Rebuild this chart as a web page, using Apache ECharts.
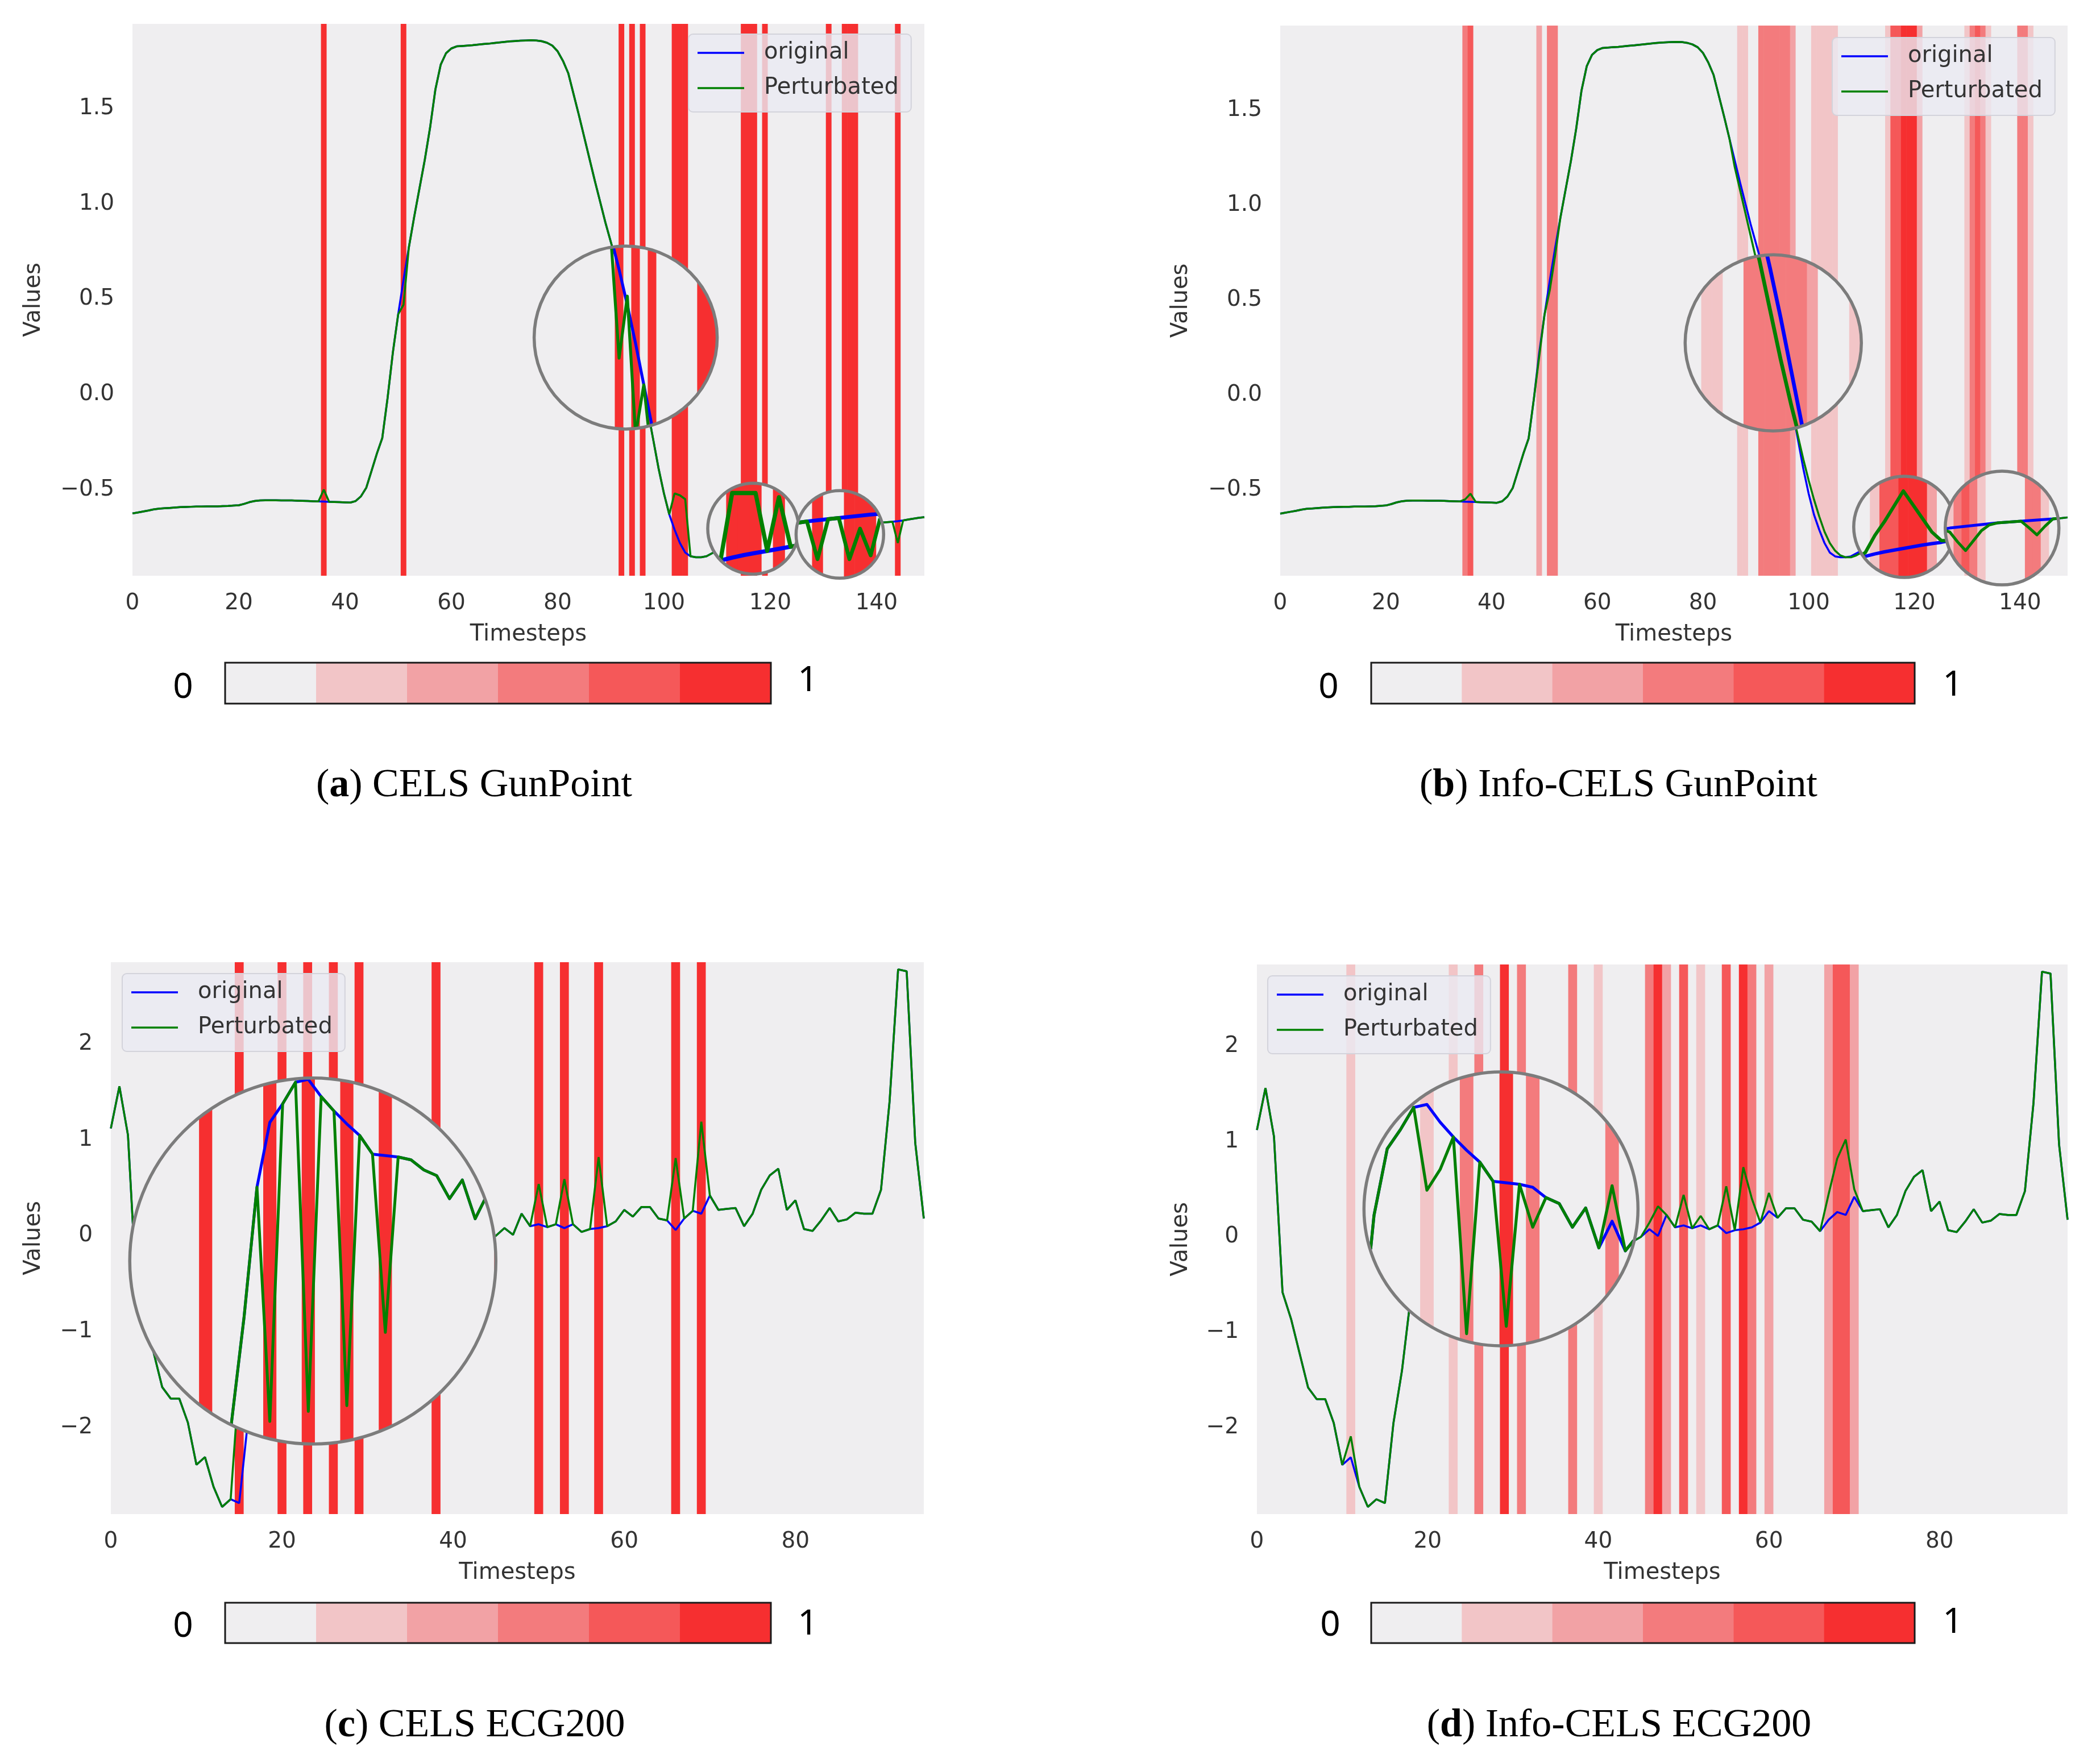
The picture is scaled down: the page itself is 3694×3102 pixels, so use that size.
<!DOCTYPE html>
<html><head><meta charset="utf-8">
<script src="https://cdn.jsdelivr.net/npm/echarts@6.0.0/dist/echarts.min.js"></script>
<style>html,body{margin:0;padding:0;background:#fff}#c{width:3694px;height:3102px}</style>
</head><body><div id="c"></div>
<script>
// ---------------- data ----------------
const GP_X_TICKS = [0,20,40,60,80,100,120,140];
const GP_Y_TICKS = [-0.5,0,0.5,1,1.5];
const ECG_X_TICKS = [0,20,40,60,80];
const ECG_Y_TICKS = [-2,-1,0,1,2];
const CBAR_LEVELS = [0,1,2,3,4,5];
const CMAP = ['#EFEEF0','#F2C5C7','#F2A2A5','#F37B7D','#F55859','#F62F30'];
const LEGEND_NAMES = ['original','Perturbated'];
const CAPTIONS = [['a','CELS GunPoint'],['b','Info-CELS GunPoint'],['c','CELS ECG200'],['d','Info-CELS ECG200']];

const GP_ORIG = [
 -0.625,-0.620,-0.615,-0.610,-0.604,-0.600,-0.598,-0.596,-0.594,-0.592,
 -0.591,-0.590,-0.589,-0.589,-0.588,-0.588,-0.588,-0.587,-0.586,-0.584,
 -0.582,-0.575,-0.566,-0.560,-0.557,-0.556,-0.556,-0.556,-0.557,-0.557,
 -0.557,-0.558,-0.559,-0.560,-0.561,-0.562,-0.563,-0.564,-0.565,-0.566,
 -0.567,-0.568,-0.560,-0.535,-0.490,-0.400,-0.310,-0.230,-0.020,0.220,
 0.420,0.600,0.770,0.930,1.080,1.230,1.400,1.600,1.730,1.790,
 1.815,1.826,1.828,1.830,1.832,1.835,1.838,1.840,1.843,1.846,
 1.849,1.852,1.854,1.856,1.857,1.858,1.857,1.853,1.845,1.830,
 1.800,1.750,1.685,1.575,1.465,1.350,1.235,1.120,1.010,0.900,
 0.800,0.700,0.590,0.470,0.340,0.200,0.060,-0.090,-0.240,-0.390,
 -0.520,-0.630,-0.710,-0.780,-0.830,-0.850,-0.855,-0.855,-0.850,-0.835,
 -0.820,-0.810,-0.800,-0.790,-0.781,-0.774,-0.768,-0.763,-0.758,-0.753,
 -0.748,-0.744,-0.740,-0.735,-0.730,-0.725,-0.720,-0.715,-0.710,-0.705,
 -0.701,-0.698,-0.695,-0.692,-0.689,-0.686,-0.683,-0.681,-0.679,-0.677,
 -0.675,-0.673,-0.671,-0.669,-0.666,-0.662,-0.657,-0.652,-0.648,-0.645];

const GP_PERT_CELS = [
 -0.625,-0.620,-0.615,-0.610,-0.604,-0.600,-0.598,-0.596,-0.594,-0.592,
 -0.591,-0.590,-0.589,-0.589,-0.588,-0.588,-0.588,-0.587,-0.586,-0.584,
 -0.582,-0.575,-0.566,-0.560,-0.557,-0.556,-0.556,-0.556,-0.557,-0.557,
 -0.557,-0.558,-0.559,-0.560,-0.561,-0.562,-0.500,-0.564,-0.565,-0.566,
 -0.567,-0.568,-0.560,-0.535,-0.490,-0.400,-0.310,-0.230,-0.020,0.220,
 0.420,0.470,0.770,0.930,1.080,1.230,1.400,1.600,1.730,1.790,
 1.815,1.826,1.828,1.830,1.832,1.835,1.838,1.840,1.843,1.846,
 1.849,1.852,1.854,1.856,1.857,1.858,1.857,1.853,1.845,1.830,
 1.800,1.750,1.685,1.575,1.465,1.350,1.235,1.120,1.010,0.900,
 0.800,0.700,0.290,0.500,0.030,0.200,-0.060,-0.090,-0.240,-0.390,
 -0.520,-0.630,-0.520,-0.530,-0.550,-0.850,-0.855,-0.855,-0.850,-0.835,
 -0.820,-0.810,-0.800,-0.790,-0.781,-0.620,-0.620,-0.620,-0.758,-0.630,
 -0.748,-0.744,-0.740,-0.735,-0.730,-0.725,-0.720,-0.715,-0.710,-0.705,
 -0.701,-0.800,-0.695,-0.692,-0.800,-0.720,-0.790,-0.681,-0.679,-0.677,
 -0.675,-0.673,-0.671,-0.669,-0.780,-0.662,-0.657,-0.652,-0.648,-0.645];

const GP_PERT_INFO = [
 -0.625,-0.620,-0.615,-0.610,-0.604,-0.600,-0.598,-0.596,-0.594,-0.592,
 -0.591,-0.590,-0.589,-0.589,-0.588,-0.588,-0.588,-0.587,-0.586,-0.584,
 -0.582,-0.575,-0.566,-0.560,-0.557,-0.556,-0.556,-0.556,-0.557,-0.557,
 -0.557,-0.558,-0.559,-0.560,-0.561,-0.550,-0.520,-0.564,-0.565,-0.566,
 -0.567,-0.568,-0.560,-0.535,-0.490,-0.400,-0.310,-0.230,-0.020,0.200,
 0.420,0.550,0.730,0.930,1.080,1.230,1.400,1.600,1.730,1.790,
 1.815,1.826,1.828,1.830,1.832,1.835,1.838,1.840,1.843,1.846,
 1.849,1.852,1.854,1.856,1.857,1.858,1.857,1.853,1.845,1.830,
 1.800,1.750,1.685,1.575,1.465,1.350,1.200,1.080,0.960,0.840,
 0.720,0.610,0.490,0.360,0.230,0.110,0.000,-0.100,-0.220,-0.340,
 -0.450,-0.550,-0.640,-0.720,-0.780,-0.820,-0.845,-0.855,-0.855,-0.845,
 -0.830,-0.815,-0.800,-0.788,-0.770,-0.720,-0.680,-0.635,-0.590,-0.630,
 -0.670,-0.710,-0.735,-0.735,-0.730,-0.725,-0.720,-0.715,-0.710,-0.705,
 -0.715,-0.750,-0.780,-0.745,-0.710,-0.690,-0.683,-0.681,-0.679,-0.677,
 -0.700,-0.725,-0.695,-0.669,-0.666,-0.662,-0.657,-0.652,-0.648,-0.645];

const ECG_ORIG = [
 1.12,1.56,1.05,-0.58,-0.86,-1.22,-1.58,-1.70,-1.70,-1.95,
 -2.39,-2.31,-2.62,-2.83,-2.75,-2.79,-1.95,-1.40,-0.65,0.25,
 0.70,0.83,0.98,1.00,0.88,0.78,0.69,0.61,0.48,0.47,
 0.46,0.44,0.37,0.33,0.17,0.30,0.03,0.21,0.01,0.12,
 0.02,0.10,-0.08,0.05,-0.05,0.00,0.08,0.01,0.23,0.10,
 0.12,0.09,0.12,0.08,0.12,0.04,0.07,0.08,0.10,0.15,
 0.27,0.20,0.30,0.30,0.18,0.16,0.06,0.18,0.26,0.23,
 0.42,0.27,0.28,0.29,0.10,0.23,0.48,0.63,0.70,0.27,
 0.37,0.07,0.05,0.16,0.29,0.15,0.17,0.24,0.23,0.23,
 0.48,1.40,2.78,2.76,0.97,0.18];

const ECG_PERT_CELS = [
 1.12,1.56,1.05,-0.58,-0.86,-1.22,-1.58,-1.70,-1.70,-1.95,
 -2.39,-2.31,-2.62,-2.83,-2.75,-1.50,-1.95,-1.40,-0.65,0.25,
 -1.38,0.83,0.98,-1.31,0.88,0.78,-1.27,0.61,0.48,-0.76,
 0.46,0.44,0.37,0.33,0.17,0.30,0.03,0.21,0.55,0.12,
 0.02,0.10,-0.08,0.05,-0.05,0.00,0.08,0.01,0.23,0.10,
 0.54,0.09,0.12,0.59,0.12,0.04,0.07,0.82,0.10,0.15,
 0.27,0.20,0.30,0.30,0.18,0.16,0.81,0.18,0.26,1.19,
 0.42,0.27,0.28,0.29,0.10,0.23,0.48,0.63,0.70,0.27,
 0.37,0.07,0.05,0.16,0.29,0.15,0.17,0.24,0.23,0.23,
 0.48,1.40,2.78,2.76,0.97,0.18];

const ECG_PERT_INFO = [
 1.12,1.56,1.05,-0.58,-0.86,-1.22,-1.58,-1.70,-1.70,-1.95,
 -2.39,-2.09,-2.62,-2.83,-2.75,-2.79,-1.95,-1.40,-0.65,0.25,
 0.70,0.83,0.98,0.42,0.56,0.78,-0.55,0.61,0.48,-0.50,
 0.46,0.17,0.37,0.33,0.17,0.30,0.03,0.45,0.01,0.12,
 0.10,0.10,-0.08,0.05,-0.05,0.00,0.15,0.32,0.23,0.10,
 0.44,0.09,0.22,0.08,0.12,0.53,0.07,0.73,0.40,0.15,
 0.46,0.20,0.30,0.30,0.18,0.16,0.06,0.45,0.82,1.02,
 0.50,0.27,0.28,0.29,0.10,0.23,0.48,0.63,0.70,0.27,
 0.37,0.07,0.05,0.16,0.29,0.15,0.17,0.24,0.23,0.23,
 0.48,1.40,2.78,2.76,0.97,0.18];

// saliency: [timestep, value in 0..1]
const SAL_GP_CELS = [[36,1],[51,1],[92,1],[94,1],[96,1],[102,1],[103,1],[104,1],[115,1],[116,1],[117,1],[119,1],[131,1],[134,1],[135,1],[136,1],[144,1]];
const SAL_GP_INFO = [[35,0.55],[36,0.7],[49,0.4],[51,0.55],[52,0.55],[87,0.25],[88,0.25],[91,0.6],[92,0.6],[93,0.6],[94,0.6],[95,0.6],[96,0.55],[97,0.4],[101,0.25],[102,0.25],[103,0.25],[104,0.25],[105,0.25],[115,0.25],[116,0.7],[117,0.75],[118,0.95],[119,0.95],[120,0.9],[121,0.4],[130,0.25],[131,0.6],[132,0.7],[133,0.6],[134,0.25],[140,0.6],[141,0.55],[142,0.25]];
const SAL_ECG_CELS = [[15,1],[20,1],[23,1],[26,1],[29,1],[38,1],[50,1],[53,1],[57,1],[66,1],[69,1]];
const SAL_ECG_INFO = [[11,0.25],[23,0.25],[26,0.6],[29,0.95],[31,0.55],[37,0.65],[40,0.3],[46,0.6],[47,0.95],[48,0.4],[50,0.75],[52,0.3],[55,0.75],[57,0.95],[58,0.55],[60,0.4],[67,0.35],[68,0.75],[69,0.75],[70,0.35]];

// ---------------- layout / style ----------------
const FONT = 'DejaVu Sans';
const TXT = '#333333';
const BG = '#EFEEF0';
const BLUE = '#0000FF', GREEN = '#008000';
const LINE_W = 3.5;

// magnifier lenses: centre (data), optional source centre, radius px, zoom
const MAG_A = [{cx:92.8,cy:0.298,sx:92.8,sy:0.36,r:161,k:1.55},{cx:116.8,cy:-0.705,r:80,k:2.2},{cx:133.1,cy:-0.735,r:77,k:2.0}];
const MAG_B = [{cx:93.3,cy:0.274,r:155,k:2.0},{cx:118.1,cy:-0.695,r:89,k:1.8},{cx:136.6,cy:-0.701,r:100,k:1.5}];
const MAG_C = [{cx:23.6,cy:-0.264,sx:23.35,r:322,k:1.5}];
const MAG_D = [{cx:28.6,cy:0.294,r:241,k:1.55}];

const PANELS = [
 {grid:{left:233,top:42,width:1393,height:971}, xmax:149, ymin:-0.952, ymax:1.944, xt:GP_X_TICKS, yt:GP_Y_TICKS, dec:1,
  orig:GP_ORIG, pert:GP_PERT_CELS, sal:SAL_GP_CELS, mags:MAG_A, legend:{left:1211,top:60}, yGap:153, xGap:84,
  cbar:{left:396,top:1166,width:960,height:72}, l0:[322,1210], l1:[1421,1198], cap:[834,1383]},
 {grid:{left:2252,top:45,width:1385,height:968}, xmax:149, ymin:-0.952, ymax:1.944, xt:GP_X_TICKS, yt:GP_Y_TICKS, dec:1,
  orig:GP_ORIG, pert:GP_PERT_INFO, sal:SAL_GP_INFO, mags:MAG_B, legend:{left:3223,top:66}, yGap:154, xGap:84,
  cbar:{left:2412,top:1166,width:956,height:72}, l0:[2337,1210], l1:[3435,1206], cap:[2847,1383]},
 {grid:{left:195,top:1693,width:1430,height:971}, xmax:95, ymin:-2.905, ymax:2.855, xt:ECG_X_TICKS, yt:ECG_Y_TICKS, dec:0,
  orig:ECG_ORIG, pert:ECG_PERT_CELS, sal:SAL_ECG_CELS, mags:MAG_C, legend:{left:215,top:1713}, yGap:115, xGap:84,
  cbar:{left:396,top:2820,width:960,height:71}, l0:[322,2862], l1:[1421,2858], cap:[835,3037]},
 {grid:{left:2211,top:1697,width:1426,height:967}, xmax:95, ymin:-2.905, ymax:2.855, xt:ECG_X_TICKS, yt:ECG_Y_TICKS, dec:0,
  orig:ECG_ORIG, pert:ECG_PERT_INFO, sal:SAL_ECG_INFO, mags:MAG_D, legend:{left:2230,top:1717}, yGap:113, xGap:84,
  cbar:{left:2412,top:2820,width:956,height:71}, l0:[2340,2860], l1:[3435,2855], cap:[2848,3037]}
];

function lvl(v){ return Math.min(5, Math.floor(v*6)); }

function clipPolyline(pts, C, r){
  const out = []; let cur = null;
  for (let i=0;i<pts.length-1;i++){
    const A = pts[i], B = pts[i+1];
    const dx = B[0]-A[0], dy = B[1]-A[1];
    const fx = A[0]-C[0], fy = A[1]-C[1];
    const a = dx*dx+dy*dy, b = 2*(fx*dx+fy*dy), c = fx*fx+fy*fy-r*r;
    let ua = null, ub = null;
    if (a < 1e-12) { if (c <= 0) { ua = 0; ub = 1; } }
    else {
      const disc = b*b-4*a*c;
      if (disc > 0) {
        const s = Math.sqrt(disc);
        const u1 = (-b-s)/(2*a), u2 = (-b+s)/(2*a);
        ua = Math.max(0,u1); ub = Math.min(1,u2);
        if (ub <= ua) { ua = null; ub = null; }
      }
    }
    if (ua === null) { if (cur) { out.push(cur); cur = null; } continue; }
    const pA = [A[0]+ua*dx, A[1]+ua*dy], pB = [A[0]+ub*dx, A[1]+ub*dy];
    if (!cur || ua > 1e-9) { if (cur) out.push(cur); cur = [pA]; }
    cur.push(pB);
    if (ub < 1-1e-9) { out.push(cur); cur = null; }
  }
  if (cur) out.push(cur);
  return out.filter(p => p.length > 1);
}

function makeMag(P, m){
  return function(params, api){
    const C = api.coord([m.cx, m.cy]);
    const S = api.coord([m.sx != null ? m.sx : m.cx, m.sy != null ? m.sy : m.cy]);
    const k = m.k, r = m.r;
    const mag = (t, y) => { const p = api.coord([t, y]); return [C[0]+k*(p[0]-S[0]), C[1]+k*(p[1]-S[1])]; };
    const ch = [{type:'circle', shape:{cx:C[0], cy:C[1], r:r}, style:{fill:BG}}];
    P.sal.forEach(([t, v]) => {
      const l = lvl(v); if (!l) return;
      let x0 = mag(t-0.5, 0)[0] - 0.3, x1 = mag(t+0.5, 0)[0] + 0.3;
      x0 = Math.max(x0, C[0]-r); x1 = Math.min(x1, C[0]+r);
      if (x1 <= x0) return;
      const pts = [], N = 20;
      for (let j=0;j<=N;j++){ const x = x0+(x1-x0)*j/N; const d = Math.sqrt(Math.max(0, r*r-(x-C[0])*(x-C[0]))); pts.push([x, C[1]-d]); }
      for (let j=N;j>=0;j--){ const x = x0+(x1-x0)*j/N; const d = Math.sqrt(Math.max(0, r*r-(x-C[0])*(x-C[0]))); pts.push([x, C[1]+d]); }
      ch.push({type:'polygon', shape:{points:pts}, style:{fill:CMAP[l]}});
    });
    const lw = LINE_W*k*0.95;
    [[P.orig, BLUE], [P.pert, GREEN]].forEach(([arr, col]) => {
      const pts = arr.map((v, t) => mag(t, v));
      clipPolyline(pts, C, r - 1).forEach(pl => ch.push({type:'polyline', shape:{points:pl},
        style:{stroke:col, lineWidth:lw, fill:'none', lineJoin:'round', lineCap:'butt'}}));
    });
    ch.push({type:'circle', shape:{cx:C[0], cy:C[1], r:r}, style:{fill:'none', stroke:'#7c7c7c', lineWidth:5.5}});
    return {type:'group', children:ch};
  };
}

const grids = [], xAxes = [], yAxes = [], series = [], legends = [], texts = [];
// main plots: grid / axis index i
PANELS.forEach((P, i) => {
  grids.push(Object.assign({show:true, backgroundColor:BG, borderWidth:0, containLabel:false, outerBoundsMode:'none'}, P.grid));
  xAxes.push({gridIndex:i, type:'value', min:0, max:P.xmax,
    axisLine:{show:false}, axisTick:{show:false}, splitLine:{show:false},
    axisLabel:{customValues:P.xt, margin:29, fontSize:39, fontFamily:FONT, color:TXT},
    name:'Timesteps', nameLocation:'middle', nameGap:P.xGap, nameMoveOverlap:false,
    nameTextStyle:{fontSize:40, fontFamily:FONT, color:TXT}});
  yAxes.push({gridIndex:i, type:'value', min:P.ymin, max:P.ymax,
    axisLine:{show:false}, axisTick:{show:false}, splitLine:{show:false},
    axisLabel:{customValues:P.yt, margin:32, fontSize:39, fontFamily:FONT, color:TXT,
      formatter: v => v.toFixed(P.dec).replace('-', '\u2212')},
    name:'Values', nameLocation:'middle', nameGap:P.yGap, nameMoveOverlap:false,
    nameTextStyle:{fontSize:40, fontFamily:FONT, color:TXT}});
  series.push({type:'custom', xAxisIndex:i, yAxisIndex:i, data:P.sal, clip:true, z:1, silent:true,
    renderItem:(params, api) => {
      const t = api.value(0), v = api.value(1), l = lvl(v);
      if (!l) return null;
      const p0 = api.coord([t-0.5, P.ymax]), p1 = api.coord([t+0.5, P.ymin]);
      return {type:'rect', shape:{x:p0[0]-0.3, y:p0[1], width:p1[0]-p0[0]+0.6, height:p1[1]-p0[1]}, style:{fill:CMAP[l]}};
    }});
  series.push({type:'line', name:LEGEND_NAMES[0], xAxisIndex:i, yAxisIndex:i, data:P.orig.map((v,t)=>[t,v]),
    symbol:'none', showSymbol:false, lineStyle:{color:BLUE, width:LINE_W}, itemStyle:{color:BLUE}, z:3, silent:true});
  series.push({type:'line', name:LEGEND_NAMES[1], xAxisIndex:i, yAxisIndex:i, data:P.pert.map((v,t)=>[t,v]),
    symbol:'none', showSymbol:false, lineStyle:{color:GREEN, width:LINE_W}, itemStyle:{color:GREEN}, z:4, silent:true});
  P.mags.forEach(m => series.push({type:'custom', xAxisIndex:i, yAxisIndex:i, data:[[m.cx, m.cy]], clip:false, z:6, silent:true,
    renderItem: makeMag(P, m)}));
  legends.push({show:true, orient:'vertical', left:P.legend.left, top:P.legend.top, data:LEGEND_NAMES,
    icon:'rect', itemWidth:82, itemHeight:3.5, itemGap:18, padding:[11,22,20,16], selectedMode:false,
    backgroundColor:'rgba(234,234,242,0.8)', borderColor:'#d3d3db', borderWidth:2, borderRadius:8, z:20,
    textStyle:{fontSize:40, fontFamily:FONT, color:TXT, lineHeight:44, padding:[0,0,0,30]}});
  texts.push({type:'text', x:P.l0[0], y:P.l0[1], z:30, style:{text:'0', fontSize:62, fontFamily:'Noto Sans', fill:'#000', align:'center', verticalAlign:'middle', textAlign:'center', textVerticalAlign:'middle'}});
  texts.push({type:'text', x:P.l1[0], y:P.l1[1], z:30, style:{text:'1', fontSize:62, fontFamily:'Noto Sans', fill:'#000', align:'center', verticalAlign:'middle', textAlign:'center', textVerticalAlign:'middle'}});
  texts.push({type:'text', x:P.cap[0], y:P.cap[1], z:30, style:{text:'({b|' + CAPTIONS[i][0] + '}) ' + CAPTIONS[i][1],
    fontSize:70, fontFamily:'Liberation Serif', fill:'#000', align:'center', verticalAlign:'middle', textAlign:'center', textVerticalAlign:'middle',
    rich:{b:{fontSize:70, fontFamily:'Liberation Serif', fontWeight:'bold', fill:'#000'}}}});
});
// colour bars: grid / axis index 4..7
PANELS.forEach((P, i) => {
  const gi = PANELS.length + i;
  grids.push(Object.assign({show:true, backgroundColor:'transparent', borderColor:'#1a1a1a', borderWidth:3, z:10, outerBoundsMode:'none'}, P.cbar));
  xAxes.push({gridIndex:gi, type:'value', min:0, max:6, show:false});
  yAxes.push({gridIndex:gi, type:'value', min:0, max:1, show:false});
  series.push({type:'custom', xAxisIndex:gi, yAxisIndex:gi, data:CBAR_LEVELS.map(l => [l]), clip:false, z:2, silent:true,
    renderItem:(params, api) => {
      const l = api.value(0);
      const p0 = api.coord([l, 1]), p1 = api.coord([l+1, 0]);
      return {type:'rect', shape:{x:p0[0], y:p0[1], width:p1[0]-p0[0]+0.5, height:p1[1]-p0[1]}, style:{fill:CMAP[l]}};
    }});
});

const chart = echarts.init(document.getElementById('c'), null, {renderer:'canvas', width:3694, height:3102, devicePixelRatio:1});
chart.setOption({
  animation:false,
  backgroundColor:'#ffffff',
  textStyle:{fontFamily:FONT},
  grid:grids, xAxis:xAxes, yAxis:yAxes, legend:legends, series:series,
  graphic:{elements:texts}
});
</script>
</body></html>
